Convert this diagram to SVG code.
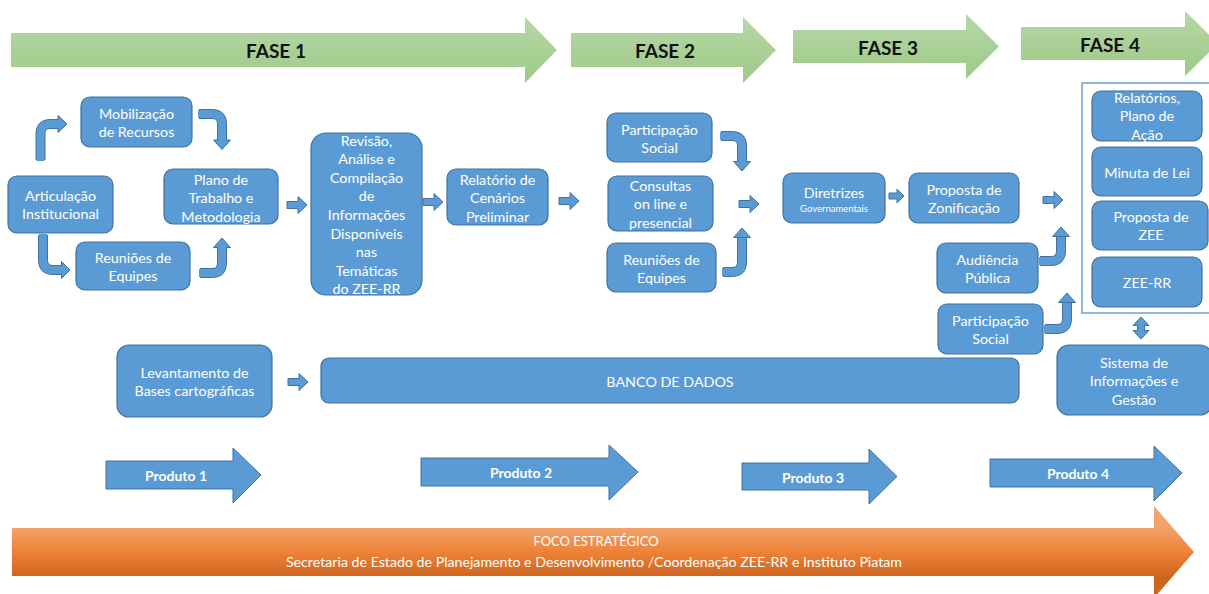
<svg xmlns="http://www.w3.org/2000/svg" xmlns:xlink="http://www.w3.org/1999/xlink" width="1209" height="594" viewBox="0 0 1209 594">
<defs>
<linearGradient id="gGreen" x1="0" y1="0" x2="0" y2="1">
<stop offset="0" stop-color="#b6d8a7"/>
<stop offset="1" stop-color="#9ec987"/>
</linearGradient>
<linearGradient id="gOrange" gradientUnits="userSpaceOnUse" x1="0" y1="528" x2="0" y2="576">
<stop offset="0" stop-color="#f2a26a"/>
<stop offset="0.5" stop-color="#ee8236"/>
<stop offset="1" stop-color="#cf6520"/>
</linearGradient>
<path id="ra" d="M0,-3.5 H11 V-8.5 L20,0 L11,8.5 V3.5 H0 Z"/>
<path id="raS" d="M0,-3 H8 V-7 L15,0 L8,7 V3 H0 Z"/>
</defs>
<style>
.node{fill:#5b9bd5;stroke:#41719c;stroke-width:1.2}
.t{font-family:Lato,"Liberation Sans",sans-serif;font-size:14.3px;fill:#ffffff;text-anchor:middle;dominant-baseline:central}
.ph{fill:url(#gGreen)}
.pht{font-family:Lato,"Liberation Sans",sans-serif;font-size:19px;font-weight:bold;fill:#111111;text-anchor:middle;dominant-baseline:central}
.prod{fill:#5b9bd5;stroke:#41719c;stroke-width:1}
.pt{font-family:Lato,"Liberation Sans",sans-serif;font-size:14px;font-weight:bold;fill:#ffffff;text-anchor:middle;dominant-baseline:central}
.arr{fill:#5b9bd5;stroke:#41719c;stroke-width:1}
.sh-o{fill:none;stroke:#41719c;stroke-width:10}
.sh-i{fill:none;stroke:#5b9bd5;stroke-width:8}
.ot{font-family:Lato,"Liberation Sans",sans-serif;font-size:13px;fill:#ffffff;text-anchor:middle;dominant-baseline:central}
</style>
<rect width="1209" height="594" fill="#ffffff"/>

<g id="fase1"><path class="ph" d="M11,33 H525 V17 L557,50 L525,83 V67 H11 Z"/><text class="pht" x="276" y="50">FASE 1</text></g>
<g id="fase2"><path class="ph" d="M571,33 H743 V17 L776,50 L743,83 V67 H571 Z"/><text class="pht" x="665" y="50">FASE 2</text></g>
<g id="fase3"><path class="ph" d="M793,30 H966 V14 L999,46.5 L966,79 V63 H793 Z"/><text class="pht" x="888" y="47">FASE 3</text></g>
<g id="fase4"><path class="ph" d="M1021,27 H1185 V11 L1218,43.5 L1185,76 V60 H1021 Z"/><text class="pht" x="1110" y="44">FASE 4</text></g>

<g id="articulacao"><rect class="node" x="8" y="176" width="105" height="57" rx="9"/><text class="t" x="60.5" y="195">Articulação</text><text class="t" x="60.5" y="213.5">Institucional</text></g>
<g id="mobilizacao"><rect class="node" x="81" y="97" width="111" height="50" rx="9"/><text class="t" x="136.5" y="113">Mobilização</text><text class="t" x="136.5" y="131.5">de Recursos</text></g>
<g id="reunioes1"><rect class="node" x="76" y="242" width="114" height="48" rx="9"/><text class="t" x="133" y="257">Reuniões de</text><text class="t" x="133" y="275.5">Equipes</text></g>
<g id="plano"><rect class="node" x="164" y="169" width="114" height="55" rx="9"/><text class="t" x="221" y="179">Plano de</text><text class="t" x="221" y="197.5">Trabalho e</text><text class="t" x="221" y="216">Metodologia</text></g>
<g id="revisao"><rect class="node" x="311" y="133" width="111" height="162" rx="15"/>
<text class="t" x="366.5" y="140">Revisão,</text><text class="t" x="366.5" y="158.6">Análise e</text><text class="t" x="366.5" y="177.2">Compilação</text><text class="t" x="366.5" y="195.8">de</text><text class="t" x="366.5" y="214.4">Informações</text><text class="t" x="366.5" y="233">Disponíveis</text><text class="t" x="366.5" y="251.6">nas</text><text class="t" x="366.5" y="270.2">Temáticas</text><text class="t" x="366.5" y="288.8">do ZEE-RR</text></g>
<g id="relatorio"><rect class="node" x="447" y="169" width="101" height="56" rx="9"/><text class="t" x="497.5" y="179">Relatório de</text><text class="t" x="497.5" y="197.5">Cenários</text><text class="t" x="497.5" y="216">Preliminar</text></g>
<g id="participacao1"><rect class="node" x="607" y="113" width="105" height="49" rx="9"/><text class="t" x="659.5" y="129">Participação</text><text class="t" x="659.5" y="147.5">Social</text></g>
<g id="consultas"><rect class="node" x="608" y="176" width="105" height="55" rx="9"/><text class="t" x="660.5" y="185">Consultas</text><text class="t" x="660.5" y="203.5">on line e</text><text class="t" x="660.5" y="222">presencial</text></g>
<g id="reunioes2"><rect class="node" x="607" y="243" width="109" height="49" rx="9"/><text class="t" x="661.5" y="259">Reuniões de</text><text class="t" x="661.5" y="277.5">Equipes</text></g>
<g id="diretrizes"><rect class="node" x="783" y="173" width="102" height="50" rx="9"/><text class="t" x="834" y="192">Diretrizes</text><text class="t" x="834" y="208" style="font-size:9.5px">Governamentais</text></g>
<g id="propostaZon"><rect class="node" x="909" y="173" width="110" height="50" rx="9"/><text class="t" x="964" y="189">Proposta de</text><text class="t" x="964" y="207.5">Zonificação</text></g>
<g id="audiencia"><rect class="node" x="937" y="243" width="101" height="50" rx="9"/><text class="t" x="987.5" y="259">Audiência</text><text class="t" x="987.5" y="277.5">Pública</text></g>
<g id="participacao2"><rect class="node" x="938" y="304" width="105" height="50" rx="9"/><text class="t" x="990.5" y="320">Participação</text><text class="t" x="990.5" y="338.5">Social</text></g>

<g id="fase4box"><rect x="1082" y="83" width="140" height="230" fill="none" stroke="#6f9fd6" stroke-width="1.5"/></g>
<g id="relatorios"><rect class="node" x="1092" y="91" width="110" height="50" rx="9"/><text class="t" x="1147" y="97">Relatórios,</text><text class="t" x="1147" y="115.5">Plano de</text><text class="t" x="1147" y="134">Ação</text></g>
<g id="minuta"><rect class="node" x="1092" y="147" width="110" height="49" rx="9"/><text class="t" x="1147" y="172">Minuta de Lei</text></g>
<g id="propostaZEE"><rect class="node" x="1092" y="201" width="116" height="49" rx="9"/><text class="t" x="1151" y="216">Proposta de</text><text class="t" x="1151" y="234.5">ZEE</text></g>
<g id="zeerr"><rect class="node" x="1092" y="257" width="110" height="50" rx="9"/><text class="t" x="1147" y="282">ZEE-RR</text></g>
<g id="sistema"><rect class="node" x="1057" y="345" width="155" height="70" rx="12"/><text class="t" x="1134" y="362">Sistema de</text><text class="t" x="1134" y="380.5">Informações e</text><text class="t" x="1134" y="399">Gestão</text></g>

<g id="levantamento"><rect class="node" x="117" y="345" width="155" height="72" rx="12"/><text class="t" x="194.5" y="372">Levantamento de</text><text class="t" x="194.5" y="390.5">Bases cartográficas</text></g>
<g id="banco"><rect class="node" x="321" y="358" width="698" height="45" rx="8"/><text class="t" x="670" y="381">BANCO DE DADOS</text></g>

<g id="connectors">
<path class="sh-o" d="M40.5,160 V134 Q40.5,124 50.5,124 H60"/>
<path class="arr" d="M58,115.5 L67,124 L58,132.5 Z"/>
<path class="sh-i" d="M40.5,161 V134 Q40.5,124 50.5,124 H60"/>

<path class="sh-o" d="M199,114 H212 Q222,114 222,124 V141"/>
<path class="arr" d="M213.5,140 H230.5 L222,149.5 Z"/>
<path class="sh-i" d="M198,114 H212 Q222,114 222,124 V141"/>

<path class="sh-o" d="M43,235 V260 Q43,270 53,270 H63"/>
<path class="arr" d="M61.5,261.5 L70,270 L61.5,278.5 Z"/>
<path class="sh-i" d="M43,234 V260 Q43,270 53,270 H63"/>

<path class="sh-o" d="M200,273 H212 Q222,273 222,263 V247"/>
<path class="arr" d="M213.5,247.5 H230.5 L222,238 Z"/>
<path class="sh-i" d="M199,273 H212 Q222,273 222,263 V247"/>

<path class="sh-o" d="M721,136 H732 Q742,136 742,146 V162"/>
<path class="arr" d="M733.5,161.5 H750.5 L742,171 Z"/>
<path class="sh-i" d="M720,136 H732 Q742,136 742,146 V162"/>

<path class="sh-o" d="M723,272 H732 Q742,272 742,262 V238"/>
<path class="arr" d="M733.5,237.5 H750.5 L742,228 Z"/>
<path class="sh-i" d="M722,272 H732 Q742,272 742,262 V238"/>

<path class="sh-o" d="M1040,261 H1051 Q1061,261 1061,251 V237"/>
<path class="arr" d="M1052.5,236.5 H1069.5 L1061,227 Z"/>
<path class="sh-i" d="M1039,261 H1051 Q1061,261 1061,251 V237"/>

<path class="sh-o" d="M1045,329 H1057 Q1067,329 1067,319 V303"/>
<path class="arr" d="M1058.5,302.5 H1075.5 L1067,293 Z"/>
<path class="sh-i" d="M1044,329 H1057 Q1067,329 1067,319 V303"/>

<use href="#ra" class="arr" x="287" y="205"/>
<use href="#ra" class="arr" x="423" y="202"/>
<use href="#ra" class="arr" x="559" y="201"/>
<use href="#ra" class="arr" x="739" y="204"/>
<use href="#raS" class="arr" x="889" y="196"/>
<use href="#ra" class="arr" x="1043" y="200"/>
<use href="#ra" class="arr" x="288" y="382"/>

<path class="arr" d="M1141,317 L1149,325.5 H1144.5 V330.5 H1149 L1141,339 L1133,330.5 H1137.5 V325.5 H1133 Z"/>
</g>

<g id="produto1"><path class="prod" d="M106,461 H233 V448 L261,475 L233,503 V489 H106 Z"/><text class="pt" x="176" y="475">Produto 1</text></g>
<g id="produto2"><path class="prod" d="M421,458 H609 V445 L638,472 L609,500 V486 H421 Z"/><text class="pt" x="521" y="472">Produto 2</text></g>
<g id="produto3"><path class="prod" d="M742,463 H869 V449 L897,476.5 L869,504 V490 H742 Z"/><text class="pt" x="813" y="477">Produto 3</text></g>
<g id="produto4"><path class="prod" d="M990,459 H1154 V446 L1182,473 L1154,501 V487 H990 Z"/><text class="pt" x="1078" y="473">Produto 4</text></g>

<g id="foco"><path d="M12,528 H1154 V506 L1194,552 L1154,598 V576 H12 Z" fill="url(#gOrange)"/>
<text class="ot" x="596" y="541">FOCO ESTRATÉGICO</text>
<text class="ot" x="594" y="561" style="font-size:14.2px">Secretaria de Estado de Planejamento e Desenvolvimento /Coordenação ZEE-RR e Instituto Piatam</text></g>
</svg>
